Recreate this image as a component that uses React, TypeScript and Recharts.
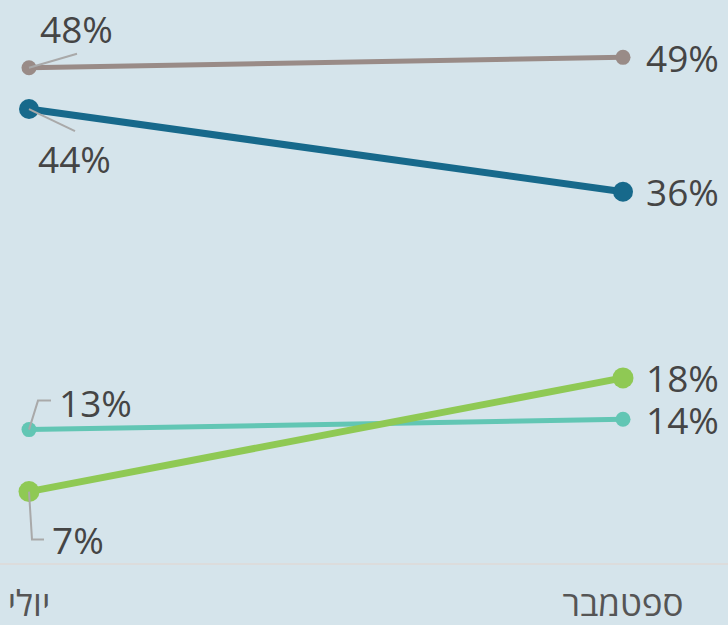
import { LineChart, Line, XAxis, YAxis, LabelList } from "recharts";

const months = ["יולי", "ספטמבר"];
const grayValues = [48, 49];
const blueValues = [44, 36];
const tealValues = [13, 14];
const greenValues = [7, 18];

const data = months.map((month, i) => ({
	month,
	gray: grayValues[i],
	blue: blueValues[i],
	teal: tealValues[i],
	green: greenValues[i],
}));

const FONT = "'Open Sans', 'DejaVu Sans', sans-serif";
const TEXT = "#454545";
const LEADER = "#a9a9a9";

// how the first (left) label of each series is pulled away from its dot
const leftLabels: Record<string, { path: number[][]; dx: number; dy: number }> = {
	gray: { path: [[0, 0], [48, -14]], dx: 11, dy: -39 },
	blue: { path: [[0, 0], [46, 22]], dx: 9, dy: 49 },
	teal: { path: [[0, 0], [9, -29], [22, -29]], dx: 30, dy: -27 },
	green: { path: [[0, 0], [3, 48], [15, 48]], dx: 23, dy: 48 },
};

const series = [
	{ key: "gray", color: "#998b87", width: 5, r: 7.5 },
	{ key: "blue", color: "#17698b", width: 7, r: 10 },
	{ key: "teal", color: "#62c6b4", width: 5, r: 7.5 },
	{ key: "green", color: "#8fc954", width: 7, r: 10.5 },
];

function makeLabel(key: string) {
	return (props: any) => {
		const { x, y, value, index } = props;
		const style = { fontFamily: FONT, fontSize: 37, fill: TEXT };
		if (index === 1) {
			return (
				<text x={x + 23} y={y} dominantBaseline="central" style={style}>
					{value}%
				</text>
			);
		}
		const cfg = leftLabels[key];
		const pts = cfg.path.map(([px, py]) => `${x + px},${y + py}`).join(" ");
		return (
			<g>
				<polyline points={pts} fill="none" stroke={LEADER} strokeWidth={2} />
				<text x={x + cfg.dx} y={y + cfg.dy} dominantBaseline="central" style={style}>
					{value}%
				</text>
			</g>
		);
	};
}

function MonthTick(props: any) {
	const { x, y, payload } = props;
	return (
		<text
			x={x}
			y={y + 44}
			textAnchor="middle"
			style={{ fontFamily: FONT, fontSize: 35, fill: "#555" }}
		>
			{payload.value}
		</text>
	);
}

export default function App() {
	return (
		<div style={{ width: 728, height: 625, background: "#d5e4eb" }}>
			<style>{"body{margin:0}"}</style>
			<LineChart
				width={728}
				height={625}
				data={data}
				margin={{ top: 47, right: 0, bottom: 0, left: 0 }}
			>
				<XAxis
					dataKey="month"
					height={61}
					padding={{ left: 29, right: 105 }}
					axisLine={{ stroke: "#dcdcdc", strokeWidth: 2 }}
					tickLine={false}
					tick={<MonthTick />}
					interval={0}
				/>
				<YAxis hide domain={[0, 50]} />
				{series.map((s) => (
					<Line
						key={s.key}
						dataKey={s.key}
						stroke={s.color}
						strokeWidth={s.width}
						dot={{ r: s.r, fill: s.color, stroke: "none" }}
						activeDot={false}
						isAnimationActive={false}
					>
						<LabelList dataKey={s.key} content={makeLabel(s.key)} />
					</Line>
				))}
			</LineChart>
		</div>
	);
}
